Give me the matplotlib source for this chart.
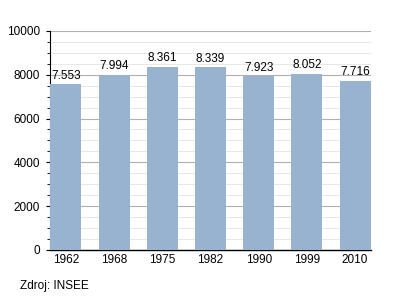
import matplotlib
matplotlib.use("Agg")
import matplotlib.pyplot as plt
from matplotlib.ticker import MultipleLocator

plt.rcParams["font.family"] = ["Liberation Sans", "DejaVu Sans"]

years = ["1962", "1968", "1975", "1982", "1990", "1999", "2010"]
population = [7553, 7994, 8361, 8339, 7923, 8052, 7716]

fig = plt.figure(figsize=(4, 3), dpi=100)
ax = fig.add_axes([0.125, 0.167, 0.8025, 0.73])

x = range(len(years))
ax.bar(x, population, width=0.64, color="#98b3cf", zorder=3)
for i, v in zip(x, population):
    ax.text(i, v + 120, f"{v / 1000:.3f}", ha="center", va="bottom", fontsize=8.5, zorder=4)

ax.set_xlim(-0.33, len(years) - 0.67)
ax.set_ylim(0, 10000)
ax.set_xticks(list(x))
ax.set_xticklabels(years, fontsize=8.5)
ax.yaxis.set_major_locator(MultipleLocator(2000))
ax.yaxis.set_minor_locator(MultipleLocator(500))
ax.tick_params(axis="y", labelsize=8.5, length=3, width=0.8, pad=4)
ax.tick_params(axis="y", which="minor", length=2, width=0.6)
ax.tick_params(axis="x", length=0, pad=3)

ax.grid(axis="y", which="major", color="#b0b0b0", linewidth=0.8, zorder=0)
ax.grid(axis="y", which="minor", color="#e4e4e4", linewidth=0.6, zorder=0)
for s in ["top", "right"]:
    ax.spines[s].set_visible(False)
ax.spines["left"].set_linewidth(0.8)
ax.spines["bottom"].set_linewidth(1.0)

fig.text(0.05, 0.035, "Zdroj: INSEE", fontsize=8.5)
fig.savefig("out.png", dpi=100)
